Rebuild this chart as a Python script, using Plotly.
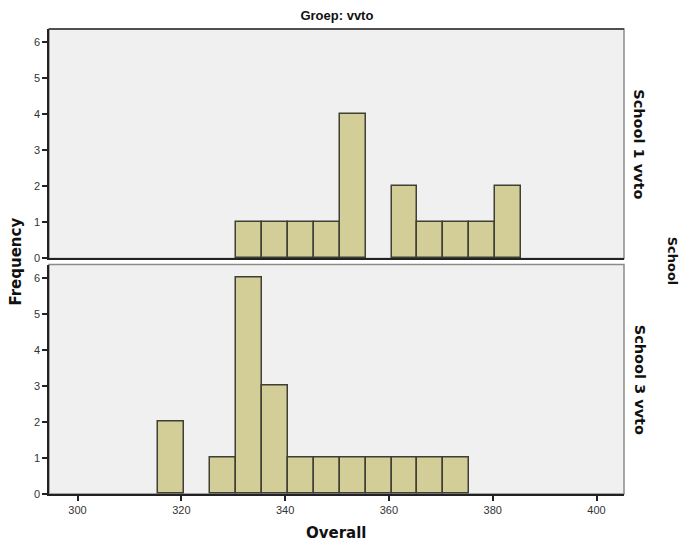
import plotly.graph_objects as go
from plotly.subplots import make_subplots

# Histogram bins (width 5) for the "Overall" score, per school
bin_width = 5
school1_bin_start = [330.5, 335.5, 340.5, 345.5, 350.5, 360.5, 365.5, 370.5, 375.5, 380.5]
school1_counts = [1, 1, 1, 1, 4, 2, 1, 1, 1, 2]

school3_bin_start = [315.5, 325.5, 330.5, 335.5, 340.5, 345.5, 350.5, 355.5, 360.5, 365.5, 370.5]
school3_counts = [2, 1, 6, 3, 1, 1, 1, 1, 1, 1, 1]

panel_labels = ["School 1 vvto", "School 3 vvto"]
x_ticks = [300, 320, 340, 360, 380, 400]
y_ticks = [0, 1, 2, 3, 4, 5, 6]

FONT = "Liberation Sans, Arial, sans-serif"
LABEL_FONT = "DejaVu Sans, Verdana, sans-serif"
BAR_FILL = "#D3CD97"
BAR_EDGE = "#3f3f35"
PANEL_BG = "#F0F0F0"

fig = make_subplots(rows=2, cols=1, shared_xaxes=True, vertical_spacing=0.013)

for row, (starts, counts) in enumerate(
    [(school1_bin_start, school1_counts), (school3_bin_start, school3_counts)], start=1
):
    centers = [s + bin_width / 2 for s in starts]
    fig.add_trace(
        go.Bar(
            x=centers,
            y=counts,
            width=[bin_width] * len(centers),
            marker=dict(color=BAR_FILL, line=dict(color=BAR_EDGE, width=1.5)),
            showlegend=False,
            hoverinfo="x+y",
        ),
        row=row,
        col=1,
    )

axis_common = dict(
    showgrid=False,
    zeroline=False,
    showline=True,
    linecolor="#222222",
    linewidth=1.5,
    ticklen=5,
    tickwidth=1.5,
    tickcolor="#222222",
    tickfont=dict(family=FONT, size=11, color="#333333"),
)

for row in (1, 2):
    fig.update_yaxes(
        range=[0, 6.37],
        tickmode="array",
        tickvals=y_ticks,
        ticks="outside",
        row=row,
        col=1,
        **axis_common,
    )
    fig.update_xaxes(
        range=[294.5, 405.3],
        tickmode="array",
        tickvals=x_ticks,
        ticks="outside" if row == 2 else "",
        showticklabels=(row == 2),
        row=row,
        col=1,
        **axis_common,
    )

# Grey frame around each panel (right/top edges)
for yref in ("y domain", "y2 domain"):
    fig.add_shape(
        type="rect",
        xref="x domain",
        yref=yref,
        x0=0,
        x1=1,
        y0=0,
        y1=1,
        line=dict(color="#8a8a8a", width=1.5),
        layer="below",
    )
# Darker top edge of the upper panel
fig.add_shape(
    type="line", xref="x domain", yref="y domain", x0=0, x1=1, y0=1, y1=1,
    line=dict(color="#333333", width=1.5),
)

# Panel labels on the right
for label, yref in zip(panel_labels, ("y domain", "y2 domain")):
    fig.add_annotation(
        text=f"<b>{label}</b>", xref="paper", yref=yref, x=1.027, y=0.5,
        textangle=90, showarrow=False,
        font=dict(family=LABEL_FONT, size=14.5, color="#111111"),
        xanchor="center", yanchor="middle",
    )
fig.add_annotation(
    text="<b>School</b>", xref="paper", yref="paper", x=1.085, y=0.5,
    textangle=90, showarrow=False, font=dict(family=LABEL_FONT, size=13, color="#111111"),
    xanchor="center", yanchor="middle",
)

# Shared axis titles
fig.add_annotation(
    text="<b>Frequency</b>", xref="paper", yref="paper", x=-0.059, y=0.5,
    textangle=-90, showarrow=False, font=dict(family=LABEL_FONT, size=15, color="#111111"),
    xanchor="center", yanchor="middle",
)
fig.add_annotation(
    text="<b>Overall</b>", xref="paper", yref="paper", x=0.5, y=-0.084,
    showarrow=False, font=dict(family=LABEL_FONT, size=15, color="#111111"),
    xanchor="center", yanchor="middle",
)

fig.update_layout(
    width=682,
    height=544,
    margin=dict(l=49, r=58, t=29, b=50),
    paper_bgcolor="white",
    plot_bgcolor=PANEL_BG,
    bargap=0,
    title=dict(
        text="<b>Groep: vvto</b>",
        x=0.494,
        xanchor="center",
        y=0.972,
        yanchor="middle",
        font=dict(family="Liberation Sans Narrow, Liberation Sans, Arial, sans-serif", size=13, color="#111111"),
    ),
)

fig.write_html("out.html")
